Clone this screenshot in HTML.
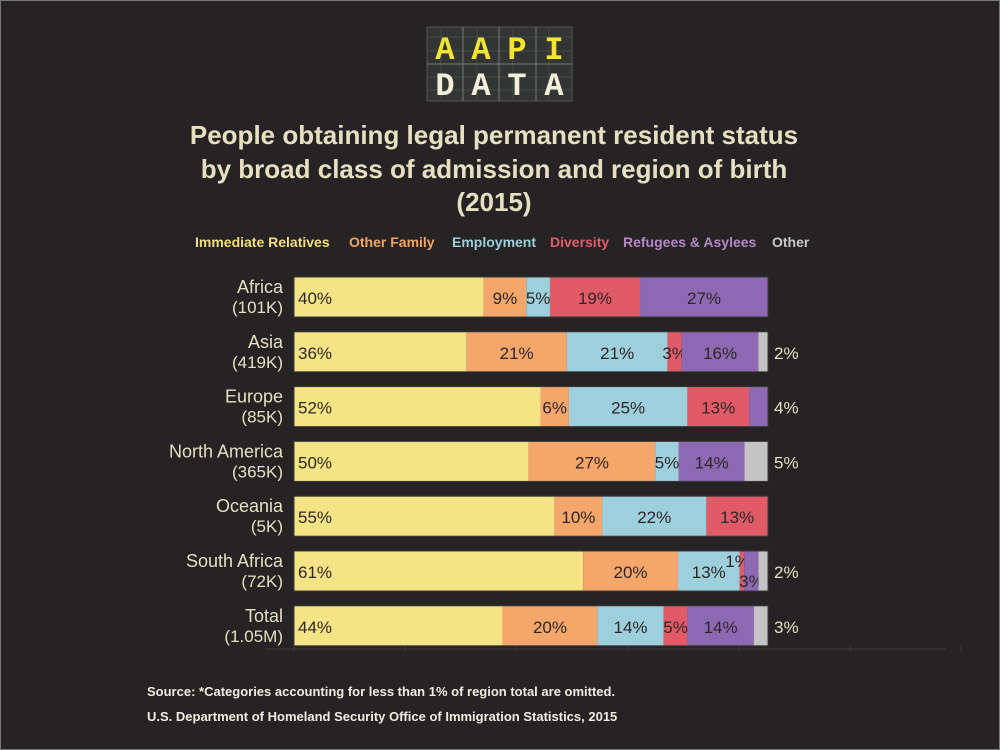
<!DOCTYPE html>
<html><head><meta charset="utf-8"><style>
html,body{margin:0;padding:0;background:#252323;}
#wrap{position:relative;width:998px;height:748px;border:1px solid #777;background:#252323;overflow:hidden;}
svg text{font-family:"Liberation Sans Narrow","Liberation Sans",sans-serif;}
</style></head><body>
<div id="wrap">
<svg id="svg" width="998" height="748">
  <g>
    <rect x="426" y="26" width="145" height="74" fill="#333534" stroke="#555" stroke-width="1"/>
    <g stroke="#4c4f4e" stroke-width="0.7">
      <line x1="426" y1="36" x2="571" y2="36"/><line x1="426" y1="50" x2="571" y2="50"/><line x1="426" y1="63" x2="571" y2="63"/><line x1="426" y1="76" x2="571" y2="76"/><line x1="426" y1="89" x2="571" y2="89"/>
      <line x1="440" y1="26" x2="440" y2="100"/><line x1="476" y1="26" x2="476" y2="100"/><line x1="512" y1="26" x2="512" y2="100"/><line x1="548" y1="26" x2="548" y2="100"/>
    </g>
    <g stroke="#777" stroke-width="1"><line x1="426" y1="63" x2="571" y2="63"/><line x1="462" y1="26" x2="462" y2="100"/><line x1="498" y1="26" x2="498" y2="100"/><line x1="535" y1="26" x2="535" y2="100"/></g>
    <text x="444" y="58" text-anchor="middle" font-size="32" font-weight="bold" fill="#f2e632" style="font-family:'Liberation Mono',monospace">A</text>
    <text x="480" y="58" text-anchor="middle" font-size="32" font-weight="bold" fill="#f2e632" style="font-family:'Liberation Mono',monospace">A</text>
    <text x="516" y="58" text-anchor="middle" font-size="32" font-weight="bold" fill="#f2e632" style="font-family:'Liberation Mono',monospace">P</text>
    <text x="553" y="58" text-anchor="middle" font-size="32" font-weight="bold" fill="#f2e632" style="font-family:'Liberation Mono',monospace">I</text>
    <text x="444" y="94" text-anchor="middle" font-size="32" font-weight="bold" fill="#f3efd8" style="font-family:'Liberation Mono',monospace">D</text>
    <text x="480" y="94" text-anchor="middle" font-size="32" font-weight="bold" fill="#f3efd8" style="font-family:'Liberation Mono',monospace">A</text>
    <text x="516" y="94" text-anchor="middle" font-size="32" font-weight="bold" fill="#f3efd8" style="font-family:'Liberation Mono',monospace">T</text>
    <text x="553" y="94" text-anchor="middle" font-size="32" font-weight="bold" fill="#f3efd8" style="font-family:'Liberation Mono',monospace">A</text>
  </g>
  <g fill="#e6e0c2" font-weight="bold" font-size="26" text-anchor="middle">
    <text x="493" y="143">People obtaining legal permanent resident status</text>
    <text x="493" y="177">by broad class of admission and region of birth</text>
    <text x="493" y="210">(2015)</text>
  </g>
  <g id="legend" font-size="14" font-weight="bold"></g>
  <g id="axis"></g>
  <g id="bars"></g>
  <g fill="#f0ede0" font-size="13" font-weight="bold">
    <text x="146" y="695">Source: *Categories accounting for less than 1% of region total are omitted.</text>
    <text x="146" y="720">U.S. Department of Homeland Security Office of Immigration Statistics, 2015</text>
  </g>
</svg>
</div>
<script>
const regions = ["Africa","Asia","Europe","North America","Oceania","South Africa","Total"];
const totals = ["(101K)","(419K)","(85K)","(365K)","(5K)","(72K)","(1.05M)"];
const seriesNames = ["Immediate Relatives","Other Family","Employment","Diversity","Refugees & Asylees","Other"];
const immediate = [40,36,52,50,55,61,44];
const otherFamily = [9,21,6,27,10,20,20];
const employment = [5,21,25,5,22,13,14];
const diversity = [19,3,13,0,13,1,5];
const refugees = [27,16,4,14,0,3,14];
const other = [0,2,0,5,0,2,3];
const series = [immediate,otherFamily,employment,diversity,refugees,other];
const colors = ["#f5e485","#f5a66a","#9dcfdc","#e05a68","#8e69b3","#c4c4c4"];
const legendColors = ["#f3df7c","#f2a466","#9ccfdb","#e25d6c","#b788c8","#c9c9c9"];

const NS="http://www.w3.org/2000/svg";
const x0=293, barW=474, rowY0=276, rowStep=54.8, barH=40;
function xs(frac){return x0+frac*barW;}
function ys(i){return rowY0+i*rowStep;}
function mk(tag,attrs,parent){const e=document.createElementNS(NS,tag);for(const k in attrs)e.setAttribute(k,attrs[k]);parent.appendChild(e);return e;}

const lg=document.getElementById('legend');
const lx=[194,348,451,549,622,771];
seriesNames.forEach((n,i)=>{
  const t=mk('text',{x:lx[i],y:246,fill:legendColors[i]},lg);
  t.textContent=n;
  
  
});

const ax=document.getElementById('axis');
mk('line',{x1:265,y1:648,x2:945,y2:648,stroke:'#3a3838','stroke-width':1},ax);
for(let k=0;k<7;k++){
  const tx=x0+k*111.2;
  const l=mk('line',{x1:tx,y1:644,x2:tx,y2:651,stroke:'#3d3b3b','stroke-width':1},ax);
  
  
}

const bg=document.getElementById('bars');
regions.forEach((r,i)=>{
  const y=ys(i);
  const g=mk('g',{},bg);
  
  
  const t1=mk('text',{x:282,y:y+16,'text-anchor':'end',fill:'#e6e0c2','font-size':18},g);
  t1.textContent=r;
  
  
  const t2=mk('text',{x:282,y:y+36,'text-anchor':'end',fill:'#e6e0c2','font-size':17},g);
  t2.textContent=totals[i];
  
  
  let sum=0; series.forEach(s=>sum+=s[i]);
  let cum=0, lastIdx=-1;
  series.forEach((s,j)=>{if(s[i]>0)lastIdx=j;});
  series.forEach((s,j)=>{
    const v=s[i]; if(!v)return;
    const xa=xs(cum/sum), xb=xs((cum+v)/sum);
    const rc=mk('rect',{x:xa,y:y,width:xb-xa,height:barH,fill:colors[j]},g);
    
    
    let tx,anchor='middle',ty=y+27;
    if(j===0){tx=xa+4;anchor='start';}
    else if(j===lastIdx && v<=5){tx=773;anchor='start';}
    else tx=(xa+xb)/2;
    if(r==="South Africa"&&j===3){ty=y+16;tx=xa-2;}
    if(r==="South Africa"&&j===4){ty=y+36;}
    const lt=mk('text',{x:tx,y:ty,'text-anchor':anchor,'font-size':17,fill:(anchor==='start'&&j!==0)?'#e6e0c2':'#2e2626'},g);
    lt.textContent=v+'%';
    
    
    cum+=v;
  });
  mk('rect',{x:x0,y:y,width:barW,height:barH,fill:'none',stroke:'#3a3838','stroke-width':1},g);
});
</script>
</body></html>
